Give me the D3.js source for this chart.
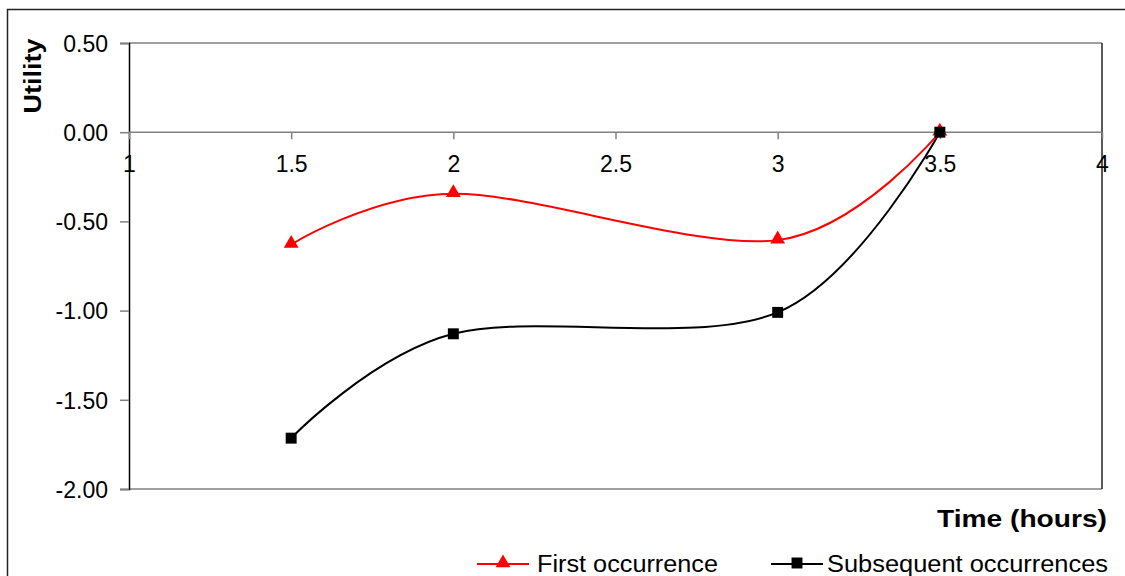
<!DOCTYPE html>
<html>
<head>
<meta charset="utf-8">
<script src="https://cdn.jsdelivr.net/npm/d3@7"></script>
<style>
  html, body { margin: 0; padding: 0; background: #fff; }
  svg { display: block; font-family: "Liberation Sans", Arial, sans-serif; }
</style>
</head>
<body>
<svg id="chart" width="1125" height="576"></svg>
<script>
// Time points (hours) and utility values for each series
const hours = [1.5, 2, 3, 3.5];
const firstOccurrence = [-0.63, -0.345, -0.605, 0];
const subsequentOccurrences = [-1.715, -1.13, -1.01, 0];
const xTicks = [1, 1.5, 2, 2.5, 3, 3.5, 4];
const yTicks = [0.5, 0, -0.5, -1, -1.5, -2];
const seriesNames = ["First occurrence", "Subsequent occurrences"];

const svg = d3.select("#chart");
const plotLeft = 129, plotRight = 1102, plotTop = 43, plotBottom = 489;

const x = d3.scaleLinear().domain([1, 4]).range([plotLeft, plotRight]);
const y = d3.scaleLinear().domain([-2, 0.5]).range([plotBottom, plotTop]);

// outer chart frame
svg.append("rect")
  .attr("x", 7.5).attr("y", 9.5)
  .attr("width", 1130).attr("height", 580)
  .attr("fill", "none").attr("stroke", "#222").attr("stroke-width", 1.5);

// plot area border: grey top/bottom, dark right edge
svg.append("line").attr("x1", plotLeft).attr("x2", plotRight).attr("y1", y(0.5)).attr("y2", y(0.5))
  .attr("stroke", "#808080").attr("stroke-width", 1.5);
svg.append("line").attr("x1", plotLeft).attr("x2", plotRight).attr("y1", y(-2)).attr("y2", y(-2))
  .attr("stroke", "#808080").attr("stroke-width", 1.5);
svg.append("line").attr("x1", plotRight).attr("x2", plotRight).attr("y1", y(0.5)).attr("y2", y(-2))
  .attr("stroke", "#222").attr("stroke-width", 1.5);

// y axis
const yAxis = svg.append("g")
  .attr("transform", `translate(${plotLeft},0)`)
  .call(d3.axisLeft(y).tickValues(yTicks).tickFormat(d => d.toFixed(2)).tickSize(9).tickPadding(12));
yAxis.select(".domain").attr("stroke", "#000").attr("stroke-width", 1.5);
yAxis.selectAll(".tick line").attr("stroke", "#808080").attr("stroke-width", 1.5);
yAxis.selectAll(".tick text")
  .attr("font-family", "Liberation Sans, Arial, sans-serif")
  .attr("font-size", 23).attr("fill", "#000")
  .attr("dy", "0.36em");

// x axis crossing at utility = 0
const xAxis = svg.append("g")
  .attr("transform", `translate(0,${y(0)})`)
  .call(d3.axisBottom(x).tickValues(xTicks).tickFormat(d => String(d)).tickSize(7).tickPadding(16));
xAxis.select(".domain").attr("stroke", "#808080").attr("stroke-width", 1.5)
  .attr("d", `M${plotLeft},0H${plotRight}`);
xAxis.selectAll(".tick line").attr("stroke", "#808080").attr("stroke-width", 1.5);
xAxis.selectAll(".tick text")
  .attr("font-family", "Liberation Sans, Arial, sans-serif")
  .attr("font-size", 23).attr("fill", "#000");

// axis titles
svg.append("text")
  .attr("transform", "translate(41,76) rotate(-90)")
  .attr("text-anchor", "middle")
  .attr("font-weight", "bold").attr("font-size", 23)
  .attr("textLength", 75).attr("lengthAdjust", "spacingAndGlyphs")
  .text("Utility");

svg.append("text")
  .attr("x", 937).attr("y", 527)
  .attr("font-weight", "bold").attr("font-size", 24)
  .attr("textLength", 170).attr("lengthAdjust", "spacingAndGlyphs")
  .text("Time (hours)");

// smoothed series lines
const line = d3.line().curve(d3.curveCardinal.tension(0));

const redPts = hours.map((h, i) => [x(h), y(firstOccurrence[i])]);
const blackPts = hours.map((h, i) => [x(h), y(subsequentOccurrences[i])]);

svg.append("path").attr("d", line(blackPts))
  .attr("fill", "none").attr("stroke", "#000").attr("stroke-width", 2);
svg.append("path").attr("d", line(redPts))
  .attr("fill", "none").attr("stroke", "#ff0000").attr("stroke-width", 2);

const triangle = d3.symbol().type(d3.symbolTriangle).size(95);
const square = d3.symbol().type(d3.symbolSquare).size(120);

svg.selectAll(".mk-red").data(redPts).enter().append("path")
  .attr("transform", d => `translate(${d[0]},${d[1] - 1})`)
  .attr("d", triangle()).attr("fill", "#ff0000");
svg.selectAll(".mk-black").data(blackPts).enter().append("path")
  .attr("transform", d => `translate(${d[0]},${d[1]})`)
  .attr("d", square()).attr("fill", "#000");

// legend
const legendY = 564;
const legend = [
  { name: seriesNames[0], color: "#ff0000", sym: triangle, x0: 477, tx: 537, tw: 181 },
  { name: seriesNames[1], color: "#000", sym: square, x0: 771, tx: 827, tw: 281 }
];
legend.forEach(l => {
  svg.append("line").attr("x1", l.x0).attr("x2", l.x0 + 52)
    .attr("y1", legendY).attr("y2", legendY)
    .attr("stroke", l.color).attr("stroke-width", 2);
  svg.append("path").attr("transform", `translate(${l.x0 + 26},${legendY - 1})`)
    .attr("d", l.sym()).attr("fill", l.color);
  svg.append("text").attr("x", l.tx).attr("y", legendY + 8)
    .attr("font-size", 23)
    .attr("textLength", l.tw).attr("lengthAdjust", "spacingAndGlyphs")
    .text(l.name);
});
</script>
</body>
</html>
